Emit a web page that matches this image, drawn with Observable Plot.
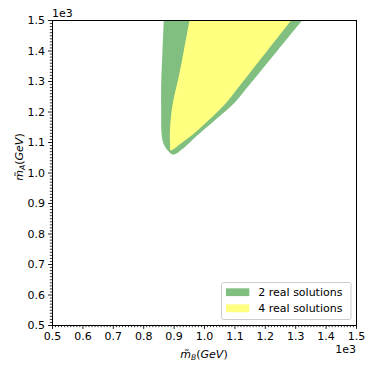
<!DOCTYPE html>
<html><head><meta charset="utf-8">
<script src="https://cdn.jsdelivr.net/npm/d3@7"></script>
<script src="https://cdn.jsdelivr.net/npm/@observablehq/plot@0.6"></script>
<style>
html,body{margin:0;padding:0;background:#fff;}
#chart svg{display:block;}
</style></head><body><div id="chart"></div>
<script>
// Outer boundary of the "2 real solutions" region (GeV), traced from top-left, round the tip, to top-right
const twoSolX = [866, 862, 857.5, 857.5, 858.2, 860.5, 864.5, 871.5, 881.5, 894.7, 907.9, 921, 937.4, 975.9, 1041.7, 1102, 1148, 1235, 1321];
const twoSolY = [1500, 1403, 1289, 1197, 1135, 1115, 1098, 1084, 1071, 1060.6, 1063.9, 1073.7, 1086.8, 1122.9, 1179.3, 1234, 1289, 1395, 1500];
// Boundary of the "4 real solutions" region (GeV)
const fourSolX = [950.6, 932.5, 914, 901, 892, 887.5, 886, 886.5, 889.1, 901.3, 915.4, 959.5, 1019.7, 1074.6, 1118.3, 1202, 1285];
const fourSolY = [1500, 1403, 1310, 1255, 1205, 1160, 1125, 1099, 1073.7, 1080, 1091.8, 1125, 1179, 1234, 1289, 1395, 1500];

const majorTicks = [500, 600, 700, 800, 900, 1000, 1100, 1200, 1300, 1400, 1500];
const tickLabels = ["0.5", "0.6", "0.7", "0.8", "0.9", "1.0", "1.1", "1.2", "1.3", "1.4", "1.5"];
const minorTicks = d3.range(500, 1501, 10).filter(d => d % 100 !== 0);

const seriesNames = ["2 real solutions", "4 real solutions"];
const seriesColors = ["#80bf80", "#ffff80"];

const twoRows = twoSolX.map((x, i) => ({x, y: twoSolY[i]}));
const fourRows = fourSolX.map((x, i) => ({x, y: fourSolY[i]}));
const labelOf = d => tickLabels[majorTicks.indexOf(d)];

const font = "DejaVu Sans";
const fs = 11;
const plot = Plot.plot({
  width: 374, height: 370,
  marginLeft: 52, marginRight: 18, marginTop: 20, marginBottom: 45,
  style: {fontFamily: font, fontSize: fs + "px", color: "black", background: "white"},
  x: {domain: [500, 1500]},
  y: {domain: [500, 1500]},
  marks: [
    Plot.line(twoRows, {x: "x", y: "y", fill: seriesColors[0], stroke: "none", curve: "catmull-rom", clip: true}),
    Plot.line(fourRows, {x: "x", y: "y", fill: seriesColors[1], stroke: "none", curve: "catmull-rom", clip: true}),
    Plot.axisX({ticks: minorTicks, tickSize: 2.2, tickFormat: () => "", label: null, strokeWidth: 0.8}),
    Plot.axisX({ticks: majorTicks, tickSize: 3.9, tickPadding: 3, tickFormat: labelOf, label: null, strokeWidth: 0.9}),
    Plot.axisY({ticks: minorTicks, tickSize: 2.2, tickFormat: () => "", label: null, strokeWidth: 0.8}),
    Plot.axisY({ticks: majorTicks, tickSize: 3.9, tickPadding: 3.5, tickFormat: labelOf, label: null, strokeWidth: 0.9}),
    Plot.frame({stroke: "black", strokeWidth: 1})
  ]
});
document.getElementById("chart").appendChild(plot);

const svg = d3.select(plot);
function mathLabel(sel, sub) {
  sel.append("tspan").attr("font-style", "italic").text("m\u0303");
  sel.append("tspan").attr("font-style", "italic").attr("font-size", 7.7).attr("dy", 2).text(sub);
  sel.append("tspan").attr("dy", -2).text("(");
  sel.append("tspan").attr("font-style", "italic").text("GeV");
  sel.append("tspan").text(")");
}
const xl = svg.append("text").attr("x", 204).attr("y", 358).attr("text-anchor", "middle")
  .attr("font-family", font).attr("font-size", fs).attr("fill", "black");
mathLabel(xl, "B");
const yl = svg.append("text").attr("transform", "translate(23,157) rotate(-90)").attr("text-anchor", "middle")
  .attr("font-family", font).attr("font-size", fs).attr("fill", "black");
mathLabel(yl, "A");

// offset texts
svg.append("text").attr("x", 52).attr("y", 17).attr("text-anchor", "start").attr("font-family", font).attr("font-size", fs).attr("fill", "black").text("1e3");
svg.append("text").attr("x", 356).attr("y", 353).attr("text-anchor", "end").attr("font-family", font).attr("font-size", fs).attr("fill", "black").text("1e3");

// legend
const lg = svg.append("g");
lg.append("rect").attr("x", 221.5).attr("y", 282.5).attr("width", 129.5).attr("height", 37).attr("rx", 2)
  .attr("fill", "white").attr("fill-opacity", 0.8).attr("stroke", "#cccccc").attr("stroke-width", 1);
seriesNames.forEach((name, i) => {
  const cy = 292.2 + i * 16.1;
  lg.append("rect").attr("x", 226).attr("y", cy - 3.9).attr("width", 23.3).attr("height", 7.8).attr("fill", seriesColors[i]);
  lg.append("text").attr("x", 258.3).attr("y", cy + 4).attr("text-anchor", "start").attr("font-family", font).attr("font-size", fs).attr("fill", "black").text(name);
});
</script>
</body></html>
